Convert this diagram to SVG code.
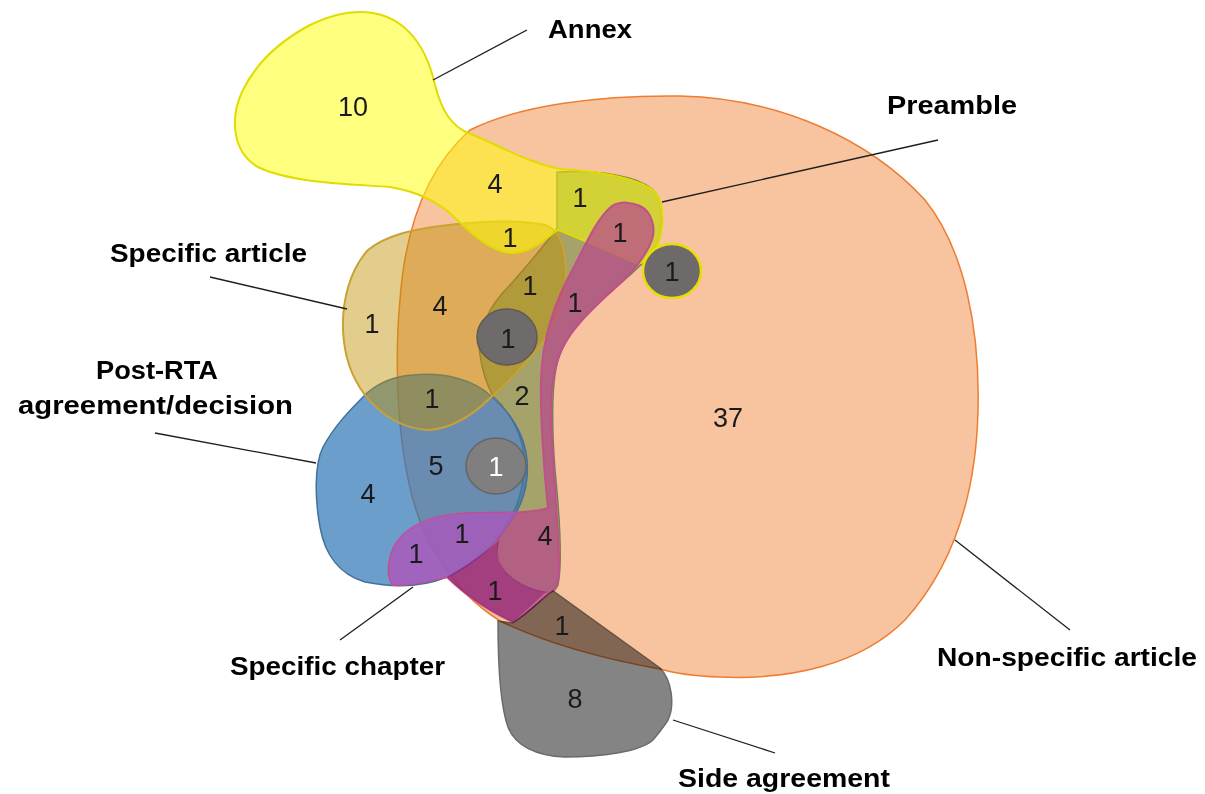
<svg xmlns="http://www.w3.org/2000/svg" xmlns:xlink="http://www.w3.org/1999/xlink" width="1205" height="794" viewBox="0 0 1205 794">
  <style>
    .lbl { font-family: "Liberation Sans", Arial, sans-serif; font-weight: bold; font-size: 26px; fill: #000; }
    .num { font-family: "Liberation Sans", Arial, sans-serif; font-size: 27px; fill: #1a1a1a; text-anchor: middle; }
    .lead { stroke: #1e1e1e; stroke-width: 1.3; fill: none; }
  </style>
  <defs>
    <path id="p-orange" d="M470,130 C520,105 600,95 680,96 C780,98 870,140 925,200 C965,250 980,330 978,410 C976,500 950,570 905,620 C860,665 790,680 720,677 C690,676 670,672 660,669 C610,660 550,645 500,621 C475,605 455,585 440,560 C422,535 410,500 403,450 C396,400 396,340 400,300 C405,230 425,170 470,130 Z"/>
    <path id="p-preamble" d="M557,172 C600,170 640,176 655,192 C665,205 664,240 650,256 C640,266 625,280 610,292 C585,315 565,335 558,360 C551,385 552,430 555,470 C559,510 563,560 558,585 C555,592 550,593 546,592 C530,590 510,580 502,567 C494,552 497,535 510,518 C522,500 526,470 523,450 C520,430 508,410 493,396 C487,385 482,370 480,355 C476,330 490,305 510,285 C525,268 545,245 557,228 Z"/>
    <path id="p-blue" d="M413,375 C445,372 475,380 492,397 C510,412 525,435 527,460 C529,485 522,505 513,517 C500,540 475,565 447,577 C420,588 390,587 365,582 C340,575 325,555 320,527 C315,500 314,465 323,447 C335,425 350,410 367,393 C380,382 395,376 413,375 Z"/>
    <path id="p-tan" d="M343,330 C342,300 350,270 368,250 C385,236 410,230 440,226 C480,221 520,220 545,225 C560,230 566,250 566,275 C566,300 555,330 535,352 C520,370 505,385 490,398 C470,418 450,428 430,430 C405,430 380,415 365,395 C352,378 344,355 343,330 Z"/>
    <path id="p-yellow" d="M360,12 C400,12 425,40 435,85 C442,112 452,126 468,133 C495,143 525,162 560,169 C605,172 640,178 655,192 C666,205 665,240 650,256 C645,262 640,264 636,263 L585,241 C572,236 563,231 557,230 C545,240 530,253 512,253 C490,252 470,232 455,218 C440,203 420,192 390,187 C350,184 290,183 258,167 C232,152 230,118 242,92 C256,62 282,40 310,25 C328,16 344,12 360,12 Z"/>
    <path id="p-chapter" d="M640,206 C652,212 656,228 652,240 C646,256 630,275 613,290 C595,306 578,322 567,340 C556,358 550,380 551,420 C552,460 558,520 559,560 C560,580 557,588 550,592 C540,600 530,612 513,622 C490,612 465,595 447,577 C430,581 410,586 393,585 C385,575 388,550 402,536 C415,522 440,514 470,513 C495,512 530,514 548,508 C545,480 540,420 541,380 C542,340 555,300 575,265 C590,235 600,215 612,206 C620,201 632,202 640,206 Z"/>
    <path id="p-side" d="M498,621 C504,622 509,623 513,623 C530,612 540,600 553,591 L660,668 C672,680 675,705 668,720 C663,728 657,735 653,740 C640,752 600,757 565,757 C535,756 515,745 508,727 C500,705 498,660 498,621 Z"/>
    <clipPath id="clip-blue"><use xlink:href="#p-blue"/></clipPath>
  </defs>

  <!-- Non-specific article -->
  <g id="non-specific-article">
    <use xlink:href="#p-orange" fill="#f8c4a0" stroke="#ed7d31" stroke-width="1.5"/>
  </g>

  <!-- Preamble -->
  <g id="preamble">
    <use xlink:href="#p-preamble" fill="#6e8c46" fill-opacity="0.6" stroke="#7d7b55" stroke-width="1.5"/>
  </g>

  <!-- Post-RTA agreement/decision -->
  <g id="post-rta">
    <use xlink:href="#p-blue" fill="#2e75b6" fill-opacity="0.7" stroke="#41719c" stroke-width="1.5"/>
  </g>

  <!-- Specific article -->
  <g id="specific-article">
    <use xlink:href="#p-tan" fill="#bf9000" fill-opacity="0.45" stroke="#c9a233" stroke-width="2"/>
  </g>

  <!-- Annex -->
  <g id="annex">
    <use xlink:href="#p-yellow" fill="#ffff00" fill-opacity="0.5" stroke="#e0dc00" stroke-width="2"/>
  </g>

  <!-- Specific chapter -->
  <g id="specific-chapter">
    <use xlink:href="#p-chapter" fill="#b84b8c" fill-opacity="0.75" stroke="#c0508a" stroke-width="2"/>
    <g clip-path="url(#clip-blue)">
      <use xlink:href="#p-chapter" fill="#966eff" fill-opacity="0.35"/>
    </g>
    <path d="M447,577 C465,566 485,553 499,540 C497,552 496,560 502,567 C510,580 530,590 546,592 C535,602 525,612 513,622 C490,612 465,595 447,577 Z" fill="#6e0064" fill-opacity="0.4"/>
  </g>

  <!-- Side agreement -->
  <g id="side-agreement">
    <use xlink:href="#p-side" fill="#848484" stroke="#6b6b6b" stroke-width="1.5" style="mix-blend-mode:multiply"/>
  </g>

  <!-- Single-entry circles -->
  <g id="circle-a">
    <ellipse cx="672" cy="271" rx="29" ry="27" fill="#6e6a6a" stroke="#e6df00" stroke-width="2.5"/>
  </g>
  <g id="circle-b">
    <ellipse cx="507" cy="337" rx="30" ry="28" fill="#6f6b6b" stroke="#5e5a55" stroke-width="1.5"/>
  </g>
  <g id="circle-c">
    <ellipse cx="496" cy="466" rx="30" ry="28" fill="#7f7f7f" stroke="#666" stroke-width="1.5"/>
  </g>

  <!-- Counts -->
  <g id="counts">
    <text class="num" x="353" y="116">10</text>
    <text class="num" x="495" y="193">4</text>
    <text class="num" x="580" y="207">1</text>
    <text class="num" x="620" y="242">1</text>
    <text class="num" x="510" y="247">1</text>
    <text class="num" x="530" y="295">1</text>
    <text class="num" x="440" y="315">4</text>
    <text class="num" x="372" y="333">1</text>
    <text class="num" x="575" y="312">1</text>
    <text class="num" x="672" y="281">1</text>
    <text class="num" x="508" y="348">1</text>
    <text class="num" x="432" y="408">1</text>
    <text class="num" x="522" y="405">2</text>
    <text class="num" x="728" y="427">37</text>
    <text class="num" x="436" y="475">5</text>
    <text class="num" x="496" y="476" style="fill:#ffffff">1</text>
    <text class="num" x="368" y="503">4</text>
    <text class="num" x="545" y="545">4</text>
    <text class="num" x="462" y="543">1</text>
    <text class="num" x="416" y="563">1</text>
    <text class="num" x="495" y="600">1</text>
    <text class="num" x="562" y="635">1</text>
    <text class="num" x="575" y="708">8</text>
  </g>

  <!-- Leader lines -->
  <g id="connectors">
    <line class="lead" x1="527" y1="30" x2="433" y2="80"/>
    <line class="lead" x1="938" y1="140" x2="662" y2="202"/>
    <line class="lead" x1="210" y1="277" x2="347" y2="309"/>
    <line class="lead" x1="155" y1="433" x2="316" y2="463"/>
    <line class="lead" x1="340" y1="640" x2="413" y2="587"/>
    <line class="lead" x1="1070" y1="630" x2="955" y2="540"/>
    <line class="lead" x1="775" y1="753" x2="673" y2="720"/>
  </g>

  <!-- Labels -->
  <g id="labels">
    <text class="lbl" x="548" y="38" textLength="84" lengthAdjust="spacingAndGlyphs">Annex</text>
    <text class="lbl" x="887" y="114" textLength="130" lengthAdjust="spacingAndGlyphs">Preamble</text>
    <text class="lbl" x="110" y="262" textLength="197" lengthAdjust="spacingAndGlyphs">Specific article</text>
    <text class="lbl" x="96" y="379" textLength="122" lengthAdjust="spacingAndGlyphs">Post-RTA</text>
    <text class="lbl" x="18" y="414" textLength="275" lengthAdjust="spacingAndGlyphs">agreement/decision</text>
    <text class="lbl" x="230" y="675" textLength="215" lengthAdjust="spacingAndGlyphs">Specific chapter</text>
    <text class="lbl" x="937" y="666" textLength="260" lengthAdjust="spacingAndGlyphs">Non-specific article</text>
    <text class="lbl" x="678" y="787" textLength="212" lengthAdjust="spacingAndGlyphs">Side agreement</text>
  </g>
</svg>
